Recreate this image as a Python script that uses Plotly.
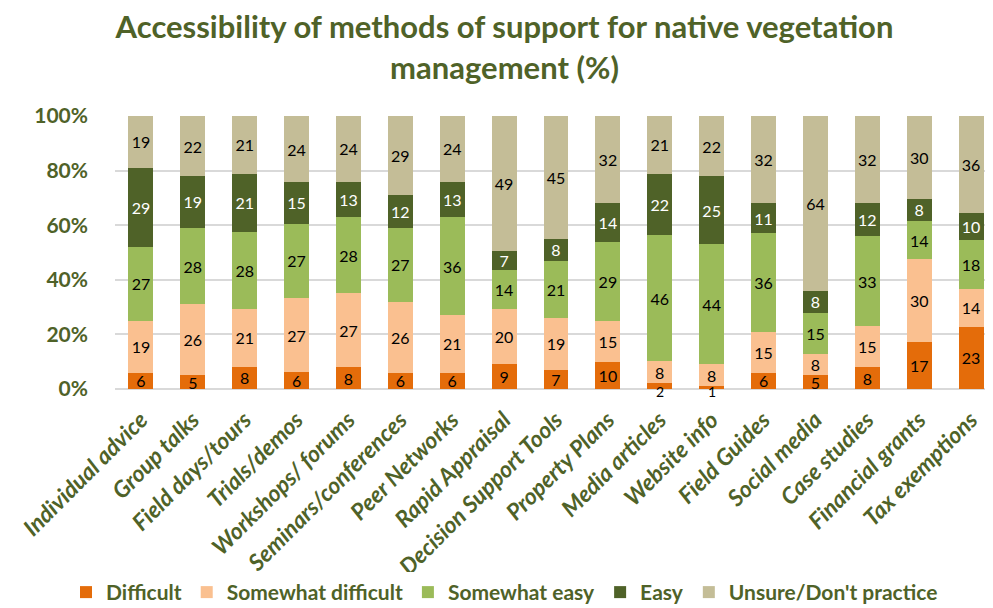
import plotly.graph_objects as go

categories = ["Individual advice", "Group talks", "Field days/tours", "Trials/demos",
              "Workshops/ forums", "Seminars/conferences", "Peer Networks", "Rapid Appraisal",
              "Decision Support Tools", "Property Plans", "Media articles", "Website info",
              "Field Guides", "Social media", "Case studies", "Financial grants", "Tax exemptions"]

difficult = [6, 5, 8, 6, 8, 6, 6, 9, 7, 10, 2, 1, 6, 5, 8, 17, 23]
somewhat_difficult = [19, 26, 21, 27, 27, 26, 21, 20, 19, 15, 8, 8, 15, 8, 15, 30, 14]
somewhat_easy = [27, 28, 28, 27, 28, 27, 36, 14, 21, 29, 46, 44, 36, 15, 33, 14, 18]
easy = [29, 19, 21, 15, 13, 12, 13, 7, 8, 14, 22, 25, 11, 8, 12, 8, 10]
unsure = [19, 22, 21, 24, 24, 29, 24, 49, 45, 32, 21, 22, 32, 64, 32, 30, 36]

series = [
    ("Difficult", difficult, "#E46C0A", "black"),
    ("Somewhat difficult", somewhat_difficult, "#FAC090", "black"),
    ("Somewhat easy", somewhat_easy, "#9BBB59", "black"),
    ("Easy", easy, "#4F6228", "white"),
    ("Unsure/Don't practice", unsure, "#C4BD97", "black"),
]

OLIVE = "#4F6228"
FONT = "Lato, Open Sans, sans-serif"
SMALL = 2  # segments this thin get their label on the axis line, as in the original

fig = go.Figure()
for name, vals, color, tcolor in series:
    labels = ["" if v <= SMALL else str(v) for v in vals]
    fig.add_trace(go.Bar(
        x=categories, y=vals, name=name,
        marker=dict(color=color, line=dict(width=0)),
        text=labels, texttemplate="%{text}",
        textposition="inside", insidetextanchor="middle", textangle=0,
        textfont=dict(color=tcolor, size=16, family=FONT),
    ))

# tiny "Difficult" values sit on the axis line
for cat, v in zip(categories, difficult):
    if v <= SMALL:
        fig.add_annotation(x=cat, y=0, text=str(v), showarrow=False,
                           yanchor="middle", yshift=-2, borderpad=0,
                           font=dict(color="black", size=14, family=FONT))

fig.update_layout(
    barmode="stack", barnorm="percent", bargap=0.52,
    title=dict(text="Accessibility of methods of support for native vegetation<br>management (%)",
               x=0.5, xanchor="center", yref="container", y=0.95, yanchor="top",
               font=dict(size=31, color=OLIVE, family=FONT, weight="bold")),
    font=dict(family=FONT, size=15, color=OLIVE),
    uniformtext=dict(minsize=16, mode="show"),
    margin=dict(l=107, r=4, t=108, b=227, autoexpand=False),
    plot_bgcolor="white", paper_bgcolor="white",
    width=993, height=608,
    legend=dict(orientation="h", xref="container", x=0.5, xanchor="center",
                yref="container", y=0.005, yanchor="bottom",
                font=dict(size=21, color=OLIVE, family=FONT, weight="bold"),
                traceorder="normal", itemwidth=30),
    showlegend=True,
)
fig.update_yaxes(range=[0, 100], dtick=20, ticksuffix="%", showgrid=True,
                 gridcolor="#D9D9D9", gridwidth=1.5, zeroline=True, zerolinecolor="#D9D9D9",
                 zerolinewidth=1.5, ticks="", ticklabelstandoff=26,
                 tickfont=dict(size=21, color=OLIVE, family=FONT, weight="bold"))
fig.update_xaxes(tickangle=-45, showgrid=False, ticks="", automargin=False,
                 tickmode="array", tickvals=categories, ticklabelstandoff=12,
                 tickfont=dict(size=23, color=OLIVE, family=FONT, weight="bold", style="italic"))

fig.write_html("out.html")
